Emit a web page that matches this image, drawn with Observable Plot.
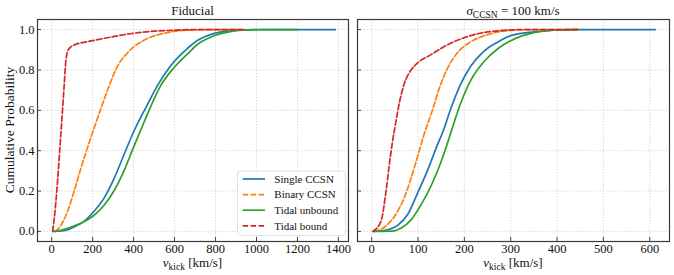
<!DOCTYPE html>
<html><head><meta charset="utf-8">
<script src="https://cdn.jsdelivr.net/npm/d3@7"></script>
<script src="https://cdn.jsdelivr.net/npm/@observablehq/plot@0.6"></script>
<style>
body{margin:0;background:#fff;}
#wrap{display:flex;width:674px;height:275px;}
#wrap svg{display:block;overflow:visible;}
</style></head><body><div id="wrap"></div>
<script>
// ---------- data ----------
const seriesNames = ["Single CCSN", "Binary CCSN", "Tidal unbound", "Tidal bound"];
const seriesColors = ["#1f77b4", "#ff7f0e", "#2ca02c", "#d62728"];
const seriesDashed = [false, true, false, true];

const yTicks = [0, 0.2, 0.4, 0.6, 0.8, 1.0];
const fidXTicks = [0, 200, 400, 600, 800, 1000, 1200, 1400];
const sigXTicks = [0, 100, 200, 300, 400, 500, 600];

// Fiducial panel
const fidSingleV = [10, 50, 78, 110, 158, 207, 256, 304, 353, 401, 466, 515, 580, 629, 661, 709, 750, 790, 871, 950, 1050, 1200, 1385];
const fidSingleP = [0, 0.002, 0.007, 0.022, 0.05, 0.10, 0.165, 0.26, 0.38, 0.495, 0.625, 0.72, 0.82, 0.875, 0.905, 0.945, 0.966, 0.98, 0.995, 0.999, 1, 1, 1];
const fidBinaryV = [18, 45, 78, 110, 142, 175, 210, 248, 280, 320, 385, 466, 564, 661, 760, 940];
const fidBinaryP = [0, 0.03, 0.10, 0.2, 0.31, 0.415, 0.52, 0.63, 0.72, 0.815, 0.90, 0.955, 0.985, 0.997, 1, 1];
const fidUnboundV = [10, 40, 61, 110, 158, 207, 256, 304, 353, 401, 434, 482, 531, 596, 628, 669, 709, 790, 871, 952, 1050, 1200];
const fidUnboundP = [0, 0.004, 0.01, 0.027, 0.048, 0.08, 0.13, 0.2, 0.30, 0.42, 0.5, 0.615, 0.72, 0.81, 0.845, 0.885, 0.925, 0.968, 0.99, 0.998, 1, 1];
const fidBoundV = [5, 13, 29, 40, 53, 61, 70, 81, 94, 102, 200, 300, 400, 500, 600, 700, 935];
const fidBoundP = [0, 0.066, 0.25, 0.41, 0.60, 0.72, 0.85, 0.90, 0.914, 0.92, 0.945, 0.965, 0.982, 0.992, 0.997, 1, 1];

// sigma_CCSN = 100 km/s panel
const sigSingleV = [5, 34, 56, 78, 99, 121, 142, 153, 171, 192, 214, 243, 279, 300, 358, 420, 612];
const sigSingleP = [0, 0.008, 0.03, 0.085, 0.19, 0.305, 0.43, 0.49, 0.61, 0.73, 0.82, 0.895, 0.947, 0.97, 0.99, 1, 1];
const sigBinaryV = [5, 34, 56, 70, 85, 99, 113, 131, 146, 164, 185, 214, 250, 293, 350, 445];
const sigBinaryP = [0, 0.033, 0.10, 0.165, 0.264, 0.37, 0.48, 0.60, 0.71, 0.81, 0.885, 0.94, 0.975, 0.995, 1, 1];
const sigUnboundV = [5, 49, 63, 85, 106, 128, 149, 164, 175, 192, 214, 243, 272, 300, 350, 400, 445];
const sigUnboundP = [0, 0.003, 0.016, 0.057, 0.13, 0.225, 0.34, 0.44, 0.52, 0.635, 0.75, 0.843, 0.905, 0.945, 0.985, 0.998, 1];
const sigBoundV = [2, 20, 31, 38, 45, 52, 60, 70, 85, 99, 128, 164, 200, 236, 278, 330, 445];
const sigBoundP = [0, 0.05, 0.2, 0.33, 0.445, 0.54, 0.64, 0.73, 0.80, 0.835, 0.876, 0.925, 0.96, 0.983, 0.995, 1, 1];

// ---------- drawing ----------
const FONT = "'Liberation Serif', 'Times New Roman', serif";
const H = 275, MT = 19, MB = 34;

function rows(v, p) { return v.map((d, i) => ({v: d, p: p[i]})); }

function panel({width, marginLeft, marginRight, xDomain, xTicks, data, showYLabels}) {
  const innerW = width - marginLeft - marginRight;
  const innerH = H - MT - MB;
  const marks = [
    Plot.ruleX(xTicks, {stroke: "#d2d2d2", strokeWidth: 0.8, strokeDasharray: "1.5,1.5"}),
    Plot.ruleY(yTicks, {stroke: "#d2d2d2", strokeWidth: 0.8, strokeDasharray: "1.5,1.5"}),
    Plot.ruleX(xTicks, {stroke: "#333", strokeWidth: 0.9, insetTop: innerH - 4}),
    Plot.ruleY(yTicks, {stroke: "#333", strokeWidth: 0.9, insetRight: innerW - 4}),
    Plot.axisX(xTicks, {tickSize: 0, tickPadding: 3, label: null, tickFormat: d => String(d), fontSize: 12.5, fill: "#111"})
  ];
  if (showYLabels) marks.push(Plot.axisY(yTicks, {tickSize: 0, tickPadding: 3, label: null, tickFormat: d => d.toFixed(1), fontSize: 12.5, fill: "#111"}));
  data.forEach((d, i) => {
    marks.push(Plot.line(d, {x: "v", y: "p", stroke: seriesColors[i], strokeWidth: 1.7, curve: "monotone-x",
      strokeDasharray: seriesDashed[i] ? "5.5,2.4" : null}));
  });
  marks.push(Plot.frame({stroke: "#3a3a3a", strokeWidth: 1.2}));
  return Plot.plot({
    width, height: H, marginTop: MT, marginBottom: MB, marginLeft, marginRight,
    style: {fontFamily: FONT, fontSize: "12.5px", background: "transparent", overflow: "visible"},
    x: {domain: xDomain, axis: null},
    y: {domain: [-0.05, 1.05], axis: null},
    marks
  });
}

const left = panel({
  width: 352, marginLeft: 37, marginRight: 4, xDomain: [-69, 1449], xTicks: fidXTicks, showYLabels: true,
  data: [rows(fidSingleV, fidSingleP), rows(fidBinaryV, fidBinaryP), rows(fidUnboundV, fidUnboundP), rows(fidBoundV, fidBoundP)]
});
const right = panel({
  width: 322, marginLeft: 5, marginRight: 5, xDomain: [-30.6, 642.6], xTicks: sigXTicks, showYLabels: false,
  data: [rows(sigSingleV, sigSingleP), rows(sigBinaryV, sigBinaryP), rows(sigUnboundV, sigUnboundP), rows(sigBoundV, sigBoundP)]
});
const wrap = document.getElementById("wrap");
wrap.appendChild(left);
wrap.appendChild(right);

// titles, axis labels, legend
function xLabel(svg, cx) {
  const t = d3.select(svg).append("text").attr("x", cx).attr("y", 267).attr("text-anchor", "middle")
    .style("font-family", FONT).attr("font-size", 13).attr("fill", "#111");
  t.append("tspan").attr("font-style", "italic").text("v");
  t.append("tspan").attr("font-size", 9.5).attr("dy", 2.5).text("kick");
  t.append("tspan").attr("dy", -2.5).text(" [km/s]");
}
const ls = d3.select(left), rs = d3.select(right);
ls.append("text").attr("x", 192.5).attr("y", 15).attr("text-anchor", "middle")
  .style("font-family", FONT).attr("font-size", 13).attr("fill", "#111").text("Fiducial");
const rt = rs.append("text").attr("x", 513 - 352).attr("y", 15).attr("text-anchor", "middle")
  .style("font-family", FONT).attr("font-size", 13).attr("fill", "#111");
rt.append("tspan").attr("font-style", "italic").text("σ");
rt.append("tspan").attr("font-size", 9.5).attr("dy", 2.5).text("CCSN");
rt.append("tspan").attr("dy", -2.5).text(" = 100 km/s");
xLabel(left, 192.5);
xLabel(right, 513 - 352);
ls.append("text").attr("transform", "translate(11,130) rotate(-90)").attr("text-anchor", "middle")
  .attr("dominant-baseline", "middle").style("font-family", FONT).attr("font-size", 13.5).attr("fill", "#111")
  .text("Cumulative Probability");

const lg = ls.append("g");
lg.append("rect").attr("x", 237.5).attr("y", 171).attr("width", 108).attr("height", 64.5).attr("rx", 3)
  .attr("fill", "#fff").attr("fill-opacity", 0.85).attr("stroke", "#d8d8d8").attr("stroke-width", 0.8);
seriesNames.forEach((name, i) => {
  const y = 179 + i * 15.6;
  lg.append("line").attr("x1", 242.7).attr("x2", 265).attr("y1", y).attr("y2", y)
    .attr("stroke", seriesColors[i]).attr("stroke-width", 1.7)
    .attr("stroke-dasharray", seriesDashed[i] ? "5.5,2.4" : null);
  lg.append("text").attr("x", 274.3).attr("y", y).attr("dy", "0.35em").attr("text-anchor", "start")
    .style("font-family", FONT).attr("font-size", 11).attr("fill", "#111").text(name);
});
</script>
</body></html>
